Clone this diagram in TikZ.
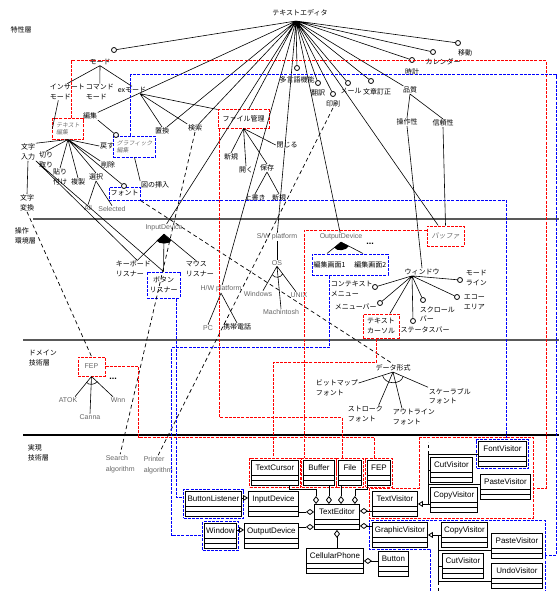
\documentclass[tikz,border=0pt]{standalone}
\usepackage{fontspec}
\setmainfont{Liberation Sans}
\newfontfamily\jpf{Noto Sans CJK JP}
\newfontfamily\jpfi[FakeSlant=0.2]{Noto Sans CJK JP}
\usetikzlibrary{positioning,arrows.meta,fit}

\begin{document}
\begin{tikzpicture}[x=1pt, y=-1pt, line width=0.6pt]
\tikzstyle{jp}=[font=\jpf\fontsize{7}{9.5}\selectfont, inner sep=0.5pt, align=center]
\tikzstyle{jpl}=[jp, align=left, anchor=west]
\tikzstyle{jps}=[font=\jpfi\fontsize{6}{7}\selectfont, text=black!55, align=left]
\tikzstyle{en}=[font=\fontsize{7}{9}\selectfont, text=black!60, inner sep=0.5pt, align=left]
\tikzstyle{opt}=[circle, draw, line width=0.8pt, fill=white, inner sep=0pt, minimum size=5pt]
\tikzstyle{rbox}=[draw=red, dash pattern=on 3pt off 1.2pt, line width=1pt]
\tikzstyle{bbox}=[draw=blue, dash pattern=on 3pt off 1.2pt, line width=1pt]
\tikzstyle{dep}=[dash pattern=on 4pt off 3pt, line width=0.7pt]
\tikzstyle{cls}=[draw, line width=0.9pt, fill=white, font=\fontsize{8}{9}\selectfont, inner xsep=1.5pt, inner ysep=1pt,
  text height=6pt, text depth=10pt, minimum height=25pt, anchor=north west,
  path picture={\draw[line width=0.8pt] ([yshift=10pt]path picture bounding box.south west) -- ([yshift=10pt]path picture bounding box.south east)
    ([yshift=5pt]path picture bounding box.south west) -- ([yshift=5pt]path picture bounding box.south east);}]
\tikzstyle{agg}=[-{Diamond[open,length=8pt,width=6pt,line width=0.8pt]}]
\tikzstyle{inh}=[-{Triangle[open,length=5pt,width=6pt,line width=0.8pt]}]
\tikzstyle{layer}=[line width=1.3pt, black!65]
\useasboundingbox (0,0) rectangle (559,591);

\draw[layer] (33,219) -- (559,219);
\draw[layer] (23,340) -- (559,340);
\draw[layer, black] (23,435) -- (559,435);
\node[jp] (ly1) at (21,30) {特性層};
\node[jpl] (ly2) at (14,236) {操作\\環境層};
\node[jpl] (ly3) at (28,358) {ドメイン\\技術層};
\node[jpl] (ly4) at (27,453) {実現\\技術層};

% 特性層
\node[jp] (te) at (300,13) {テキストエディタ};
\coordinate (rt) at (296,21);
\node[opt] (cMode) at (114,50) {};
\node[jp] (mode) at (100,62) {モード};
\node[jpl] (ins) at (49,92) {インサート\\モード};
\node[jpl] (cmd) at (85,92) {コマンド\\モード};
\node[jp] (exm) at (132,90) {exモード};
\node[jp] (hen) at (90,116) {編集};
\node[rbox, jps, minimum width=28pt, minimum height=20pt] (tedit) at (68,129) {テキスト\\編集};
\node[bbox, jps, minimum width=41pt, minimum height=21pt] (gedit) at (134.5,146.5) {グラフィック\\編集};
\node[opt] (cGed) at (116,135) {};
\node[jp] (chikan) at (162,131) {置換};
\node[jp] (kensaku) at (195,128) {検索};
\node[rbox, jp, minimum width=51pt, minimum height=18pt] (fm) at (243.5,119) {ファイル管理};
\node[jp] (shinki) at (231,157) {新規};
\node[jp] (hiraku) at (246,170) {開く};
\node[jp] (hozon) at (267,168) {保存};
\node[jp] (tojiru) at (287,145) {閉じる};
\node[jp] (uwa) at (255,198) {上書き};
\node[jp] (shinki2) at (279,198) {新規};
\node[jp] (moji) at (28,152) {文字\\入力};
\node[jp] (kiri) at (46,160) {切り\\取り};
\node[jp] (hari) at (60,177) {貼り\\付け};
\node[jp] (fuku) at (78,182) {複製};
\node[jp] (sel) at (96,177) {選択};
\node[jp] (del) at (108,165) {削除};
\node[jp] (undo) at (107,146) {戻す};
\node[jp] (zu) at (155,185) {図の挿入};
\node[bbox, jp, minimum width=31pt, minimum height=13pt] (font) at (124.5,193.5) {フォント};
\node[opt] (cFont) at (124,186) {};
\node[en] (all) at (88,208) {All};
\node[en] (selcd) at (112,209) {Selected};
\node[jp] (henkan) at (27,203) {文字\\変換};
\node[opt] (cMlt) at (297,68) {};
\node[jp, below=5pt of cMlt] (mlt) {多言語機能};
\node[opt] (cTr) at (318,83) {};
\node[jp, below=3pt of cTr] (tr) {翻訳};
\node[opt] (cPr) at (333,94) {};
\node[jp, below=3pt of cPr] (pr) {印刷};
\node[opt] (cMail) at (348,83) {};
\node[jp] (mail) at (351,91) {メール};
\node[opt] (cCor) at (371,81) {};
\node[jp] (cor) at (377,92) {文章訂正};
\node[opt] (cClk) at (412,60) {};
\node[jp, below=5pt of cClk] (clk) {時計};
\node[opt] (cCal) at (433,52) {};
\node[jp] (cal) at (443,62) {カレンダー};
\node[opt] (cMov) at (458,43) {};
\node[jp] (mov) at (465,53) {移動};
\node[jp] (hin) at (410,90) {品質};
\node[jp] (sousa) at (407,122) {操作性};
\node[jp] (shinrai) at (443,123) {信頼性};

% 操作環境層
\node[en] (ind) at (164,228) {InputDevice};
\node[jpl] (kbd) at (115,269) {キーボード\\リスナー};
\node[bbox, jp, minimum width=33pt, minimum height=26pt] (btnl) at (163.5,285) {ボタン\\リスナー};
\node[jpl] (mouse) at (185,269) {マウス\\リスナー};
\node[en] (sw) at (277,237) {S/W platform};
\node[en] (os) at (277,263) {OS};
\node[en] (wins) at (258,294) {Windows};
\node[en] (mac) at (281,312) {Machintosh};
\node[en] (unix) at (299,295) {UNIX};
\node[en] (hw) at (221,289) {H/W platform};
\node[en] (pc) at (208,328) {PC};
\node[jp] (keitai) at (237,327) {携帯電話};
\node[en] (od) at (341,237) {OutputDevice};
\node[bbox, jp, minimum width=76pt, minimum height=21pt] (scr) at (350,264.5) {編集画面1\hspace{9pt}編集画面2};
\node[font=\bfseries\fontsize{9}{9}\selectfont, inner sep=0pt] (odots) at (370,244) {...};
\node[rbox, font=\jpfi\fontsize{7}{8}\selectfont, text=black!60, minimum width=37pt, minimum height=20pt] (bufF) at (445.5,236) {バッファ};
\node[jp] (wnd) at (422,272) {ウィンドウ};
\node[opt] (cCtx) at (375,287) {};
\node[jpl] (ctx) at (330,289) {コンテキスト\\メニュー};
\node[opt] (cMbar) at (380,303) {};
\node[jpl] (mbar) at (334,307) {メニューバー};
\node[opt] (cScr) at (423,300) {};
\node[jpl] (scrl) at (419,314) {スクロール\\バー};
\node[opt] (cEcho) at (457,297) {};
\node[jpl] (echo) at (463,302) {エコー\\エリア};
\node[opt] (cMline) at (460,280) {};
\node[jpl] (mline) at (465,278) {モード\\ライン};
\node[opt] (cStat) at (413,321) {};
\node[jp] (stat) at (425,330) {ステータスバー};
\node[rbox, jp, minimum width=36pt, minimum height=24pt] (tcurs) at (381,326) {テキスト\\カーソル};

% ドメイン技術層
\node[rbox, en, minimum width=27pt, minimum height=19pt] (fepbox) at (91.5,366.5) {FEP};
\node[en] (atok) at (68,400) {ATOK};
\node[en] (canna) at (90,417) {Canna};
\node[en] (wnn) at (118,400) {Wnn};
\node[font=\bfseries\fontsize{9}{9}\selectfont, inner sep=0pt] (fdots) at (113,379) {...};
\node[jp] (dk) at (393,368) {データ形式};
\node[jpl] (bmp) at (315,388) {ビットマップ\\フォント};
\node[jpl] (strk) at (347,414) {ストローク\\フォント};
\node[jpl] (outl) at (392,417) {アウトライン\\フォント};
\node[jpl] (scal) at (428,396) {スケーラブル\\フォント};

% 実現技術層
\node[en, anchor=west, font=\fontsize{7}{11.5}\selectfont] (srch) at (105,464) {Search\\algorithm};
\node[en, anchor=west, font=\fontsize{7}{11.5}\selectfont] (prt) at (143,465) {Printer\\algorithm};
\node[cls, minimum width=47pt] (tcur) at (251,460) {TextCursor};
\node[cls, minimum width=31pt] (bufc) at (303,460) {Buffer};
\node[cls, minimum width=23pt] (filec) at (338,460) {File};
\node[cls, minimum width=23pt] (fepc) at (367,460) {FEP};
\node[cls, minimum width=56pt] (blis) at (185,491) {ButtonListener};
\node[cls, minimum width=50pt] (indev) at (248,491) {InputDevice};
\node[cls, minimum width=32pt] (wcls) at (204,523) {Window};
\node[cls, minimum width=54pt] (outdev) at (244,523) {OutputDevice};
\node[cls, minimum width=45pt] (ted) at (314,504) {TextEditor};
\node[cls, minimum width=57pt] (cell) at (306,548) {CellularPhone};
\node[cls, minimum width=30pt] (btn) at (378,551) {Button};
\node[cls, minimum width=45pt] (tvis) at (372,491) {TextVisitor};
\node[cls, minimum width=55pt] (gvis) at (372,522) {GraphicVisitor};
\node[cls, minimum width=42pt] (cutv) at (430,457) {CutVisitor};
\node[cls, minimum width=48pt] (fontv) at (478,441) {FontVisitor};
\node[cls, minimum width=50pt] (pastev) at (480,474) {PasteVisitor};
\node[cls, minimum width=47pt] (copyv) at (430,487) {CopyVisitor};
\node[cls, minimum width=46pt] (copyg) at (441,522) {CopyVisitor};
\node[cls, minimum width=51pt] (pasteg) at (491,533) {PasteVisitor};
\node[cls, minimum width=41pt] (cutg) at (442,553) {CutVisitor};
\node[cls, minimum width=51pt] (undog) at (491,563) {UndoVisitor};
\node[rbox, fit=(tcur), inner sep=1.5pt] (ftcur) {};
\node[rbox, fit=(bufc), inner sep=1.5pt] (fbuf) {};
\node[rbox, fit=(filec), inner sep=1.5pt] (ffile) {};
\node[rbox, fit=(fepc), inner sep=1.5pt] (ffep) {};
\node[bbox, fit=(blis), inner sep=1.5pt] (fblis) {};
\node[bbox, fit=(wcls), inner sep=1.5pt] (fwin) {};
\node[bbox, fit=(fontv), inner sep=1.5pt] (ffont) {};

% feature links
\draw (rt) -- (cMode) (rt) -- (hen) (rt) -- (chikan) (rt) -- (kensaku) (rt) -- (ind) (rt) -- (hw)
  (rt) -- (fm) (rt) -- (sw) (rt) -- (cMlt) (rt) -- (od) (rt) -- (cTr) (rt) -- (cPr)
  (rt) -- (bufF) (rt) -- (cMail) (rt) -- (cCor) (rt) -- (hin) (rt) -- (cClk) (rt) -- (cCal) (rt) -- (cMov);
\draw (mode.south) -- (ins.north) (mode.south) -- (cmd.north) (mode.south) -- (exm.north);
\draw ([xshift=-9pt]ins.south) -- (tedit.west);
\draw ([xshift=8pt]exm.south) -- (chikan.north) ([xshift=8pt]exm.south) -- (fm.north west) ([xshift=8pt]exm.south) -- (kensaku.north west);
\draw (hen.south east) -- (cGed);
\draw (tedit.south) -- (moji.north east) (tedit.south) -- (kiri.north) (tedit.south) -- (hari.north) (tedit.south) -- (fuku.north)
  (tedit.south) -- (sel.north) (tedit.south) -- (del.north west) (tedit.south) -- (undo.west) (tedit.south) -- (cFont);
\draw (moji.south) -- (henkan.north) (moji.south east) -- ([xshift=4pt]kbd.north) (moji.south east) -- (btnl.north);
\draw (sel.south) -- (all.north) (sel.south) -- (selcd.north);
\draw (gedit.south) -- (zu.north west);
\draw (fm.south) -- (shinki.north) (fm.south) -- (hiraku.north) (fm.south) -- (hozon.north) (fm.south) -- (tojiru.west);
\draw (hozon.south) -- (uwa.north) (hozon.south) -- (shinki2.north);
\draw (hin.south) -- (sousa.north) (hin.south) -- (shinrai.north) (sousa.south) -- (wnd.north) (shinrai.south) -- (bufF.north);
\coordinate (indA) at ([yshift=-2pt]ind.south);
\draw (indA) -- ([xshift=4pt]kbd.north) (indA) -- (btnl.north) (indA) -- ([xshift=-4pt]mouse.north);
\fill (164,234) -- (156.6,240.7) .. controls (159,244.5) and (169,244.5) .. (171.4,240.7) -- cycle;
\coordinate (odA) at ([yshift=-1pt]od.south);
\draw (odA) -- ([xshift=-23pt]scr.north) (odA) -- ([xshift=13pt]scr.north);
\fill (341,242) -- (334.2,247.7) .. controls (337,251.5) and (346,251) .. (348.9,246.1) -- cycle;
\draw (sw.south) -- (os.north);
\draw (os.south) -- ([xshift=5pt]wins.north) (os.south) -- (mac.north) (os.south) -- ([xshift=-3pt]unix.north);
\draw (272.3,274.7) .. controls (274.5,278.5) and (280.5,278) .. (282.6,274);
\draw (hw.south) -- (pc.north) (hw.south) -- (keitai.north);
\coordinate (wndA) at ([xshift=-10pt]wnd.south);
\draw (wndA) -- (cCtx) (wndA) -- (cMbar) (wndA) -- ([xshift=9pt]tcurs.north) (wndA) -- (cStat)
  (wndA) -- (cScr) (wndA) -- (cEcho) (wndA) -- (cMline);
\draw (fepbox.south) -- ([xshift=-3pt]atok.north east) (fepbox.south) -- (canna.north) (fepbox.south) -- ([xshift=3pt]wnn.north west);
\draw (86.4,382.2) .. controls (88.5,385.5) and (95,385) .. (97.4,381.3);
\draw (dk.south) -- ([yshift=5pt]bmp.east) (dk.south) -- ([xshift=-5pt]strk.north east) (dk.south) -- ([xshift=10pt]outl.north west) (dk.south) -- (scal.north west);
\draw (382.5,375.4) .. controls (385,385) and (401,385) .. (403.1,376.5);
\draw[dep] (henkan.south) -- (fepbox.north);
\draw[dep] (kensaku.south) -- (srch.north);
\draw[dep] (pr.south) -- (prt.north);
\draw[dep] (font.south east) -- (dk.north);

% traces
\coordinate (rtop) at (546,61);
\coordinate (tvf) at (533,488);
\coordinate (btop) at (556,75);
\coordinate (gvf) at (545,555);
\draw[rbox] ([xshift=3pt]tedit.north) |- (rtop) |- (tvf);
\draw[rbox] (419,437) -- (533,437) -- (533,518) -- (369,518) -- (369,488) -- (419,488) -- cycle;
\draw[bbox] ([xshift=18pt]gedit.north west) |- (btop) |- (gvf);
\draw[bbox] (430,591) -- (430,549) -- (369,549) -- (369,520) -- (545,520) -- (545,591);
\draw[bbox] (font.south east) -| ([xshift=30.5pt]ffont.north west);
\draw[bbox] ([xshift=-4pt]btnl.south east) |- ([yshift=6pt]fblis.west);
\draw[bbox] ([xshift=18pt]scr.south west) -- ++(0,72) -- ++(-158,0) |- (fwin.west);
\draw[rbox] ([xshift=2pt]fm.south west) -- ++(0,289) -| ([xshift=6pt]ffile.north west);
\draw[rbox] ([xshift=14pt]tcurs.south west) -- ++(0,24) -| ([xshift=24pt]ftcur.north west);
\draw[rbox] ([yshift=6pt]bufF.west) -| ([xshift=3pt]fbuf.north west);
\draw[rbox] (fepbox.east) -- ++(33,0) -- ++(0,70.5) -| ([xshift=9pt]ffep.north west);

% classes
\coordinate (bA) at ([xshift=-6pt]bufc.south east);
\coordinate (fA) at ([xshift=3pt]filec.south west);
\coordinate (iA) at ([yshift=-8pt]indev.east);
\coordinate (oA) at ([yshift=9pt]outdev.east);
\coordinate (tA) at ([yshift=-7pt]tvis.west);
\coordinate (gA) at ([yshift=9pt]gvis.west);
\coordinate (blA) at ([yshift=6pt]blis.east);
\coordinate (wA) at ([yshift=6pt]wcls.east);
\draw[agg] ([xshift=-10pt]tcur.south east) -- ++(0,3) -| ([xshift=2pt]ted.north west);
\draw[agg] (bA) -- (bA |- ted.north);
\draw[agg] (fA) -- (fA |- ted.north);
\draw[agg] (fepc.south west) -- ++(0,3) -| ([xshift=-5pt]ted.north east);
\draw[agg] (iA) -- (iA -| ted.west);
\draw[agg] (oA) -- (oA -| ted.west);
\draw[agg] (tA) -- (tA -| ted.east);
\draw[agg] (gA) -- (gA -| ted.east);
\draw[agg] (ted.south |- cell.north) -- (ted.south);
\draw[agg] (cell.east -| btn.west) -- (cell.east);
\draw[inh] (blA) -- (blA -| indev.west);
\draw[inh] (wA) -- (wA -| outdev.west);
\coordinate (tvt) at ([xshift=10pt]tvis.east);
\draw[inh] (tvt) -- (tvis.east);
\draw (tvt) |- (fontv.west) (tvt) |- (cutv.west) (tvt) |- ([yshift=3pt]pastev.west) (tvt) -- (tvt -| copyv.west);
\draw[dashed] (tvt |- fontv.west) -- ++(0,-12);
\coordinate (gvt) at ([xshift=10pt]gvis.east);
\draw[inh] (gvt) -- (gvis.east);
\draw (gvt) -- (gvt -| copyg.west) (gvt) |- ([yshift=-4.5pt]pasteg.west) (gvt) |- (cutg.west) (gvt) |- ([yshift=-5pt]undog.west);
\draw[dashed] (gvt |- undog.center) -- ++(0,17);
\end{tikzpicture}
\end{document}
